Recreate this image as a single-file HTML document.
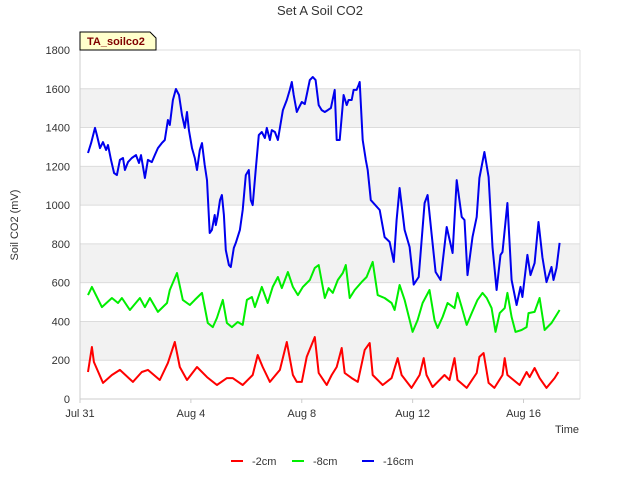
<!DOCTYPE html>
<html><head><meta charset="utf-8"><style>
body{margin:0;background:#fff;font-family:"Liberation Sans",sans-serif}
svg text{font-family:"Liberation Sans",sans-serif}
</style></head><body>
<svg id="c" width="640" height="480">
<text x="320" y="15" text-anchor="middle" font-size="13" fill="#333">Set A Soil CO2</text>
<text transform="translate(18,225) rotate(-90)" text-anchor="middle" font-size="11" fill="#333">Soil CO2 (mV)</text>
<text x="579" y="433" text-anchor="end" font-size="11" fill="#333">Time</text>
<g id="bands"></g><g id="grid"></g><g id="ticks"></g><g id="series"></g>
<g>
<path d="M80,32 L150,32 L156,38 L156,50 L80,50 Z" fill="#ffffcc" stroke="#000" stroke-width="1"/>
<text x="87" y="45" font-size="11" font-weight="bold" fill="#800000">TA_soilco2</text>
</g>
<g>
<g><line x1="231" y1="461" x2="243" y2="461" stroke="#ff0000" stroke-width="2"/><text x="252" y="465" font-size="11" fill="#333">-2cm</text></g>
<g><line x1="292" y1="461" x2="304" y2="461" stroke="#00ee00" stroke-width="2"/><text x="313" y="465" font-size="11" fill="#333">-8cm</text></g>
<g><line x1="362" y1="461" x2="374" y2="461" stroke="#0000ee" stroke-width="2"/><text x="383" y="465" font-size="11" fill="#333">-16cm</text></g>
</g>
</svg>
<script>
const yTicks=[0,200,400,600,800,1000,1200,1400,1600,1800];
const xTickDays=[0,4,8,12,16];
const xTickLabels=["Jul 31","Aug 4","Aug 8","Aug 12","Aug 16"];
const redDays=[0.29,0.43,0.50,0.83,1.15,1.44,1.91,2.23,2.45,2.88,3.17,3.42,3.60,3.86,4.22,4.58,4.94,5.30,5.51,5.87,6.23,6.41,6.59,6.85,7.21,7.46,7.68,7.82,8.00,8.18,8.47,8.61,8.90,9.08,9.26,9.44,9.55,9.80,10.02,10.27,10.45,10.56,10.92,11.24,11.46,11.60,11.96,12.25,12.40,12.50,12.72,13.15,13.33,13.51,13.62,13.95,14.31,14.41,14.56,14.74,14.95,15.24,15.32,15.42,15.86,16.11,16.22,16.40,16.58,16.83,17.12,17.26];
const redVals=[139,268,191,83,124,150,88,139,150,98,186,294,165,98,165,113,72,108,108,72,124,227,165,88,150,294,124,88,88,217,320,134,72,124,165,263,134,108,88,253,289,124,72,108,211,124,57,124,211,124,62,124,98,211,98,57,134,217,237,83,57,124,211,124,72,139,113,160,108,57,108,139];
const greenDays=[0.29,0.43,0.79,1.15,1.37,1.51,1.80,2.16,2.34,2.52,2.81,3.14,3.24,3.50,3.71,3.96,4.14,4.40,4.61,4.79,4.94,5.15,5.30,5.48,5.69,5.87,6.02,6.20,6.31,6.56,6.77,6.95,7.14,7.28,7.50,7.68,7.86,8.04,8.29,8.47,8.61,8.83,8.97,9.12,9.30,9.48,9.59,9.73,9.91,10.16,10.34,10.56,10.74,10.99,11.24,11.35,11.53,11.71,12.00,12.18,12.36,12.61,12.79,12.90,13.08,13.26,13.51,13.62,13.77,13.95,14.13,14.34,14.52,14.67,14.85,14.99,15.14,15.32,15.42,15.57,15.71,15.93,16.11,16.18,16.40,16.58,16.76,17.01,17.19,17.30];
const greenVals=[536,578,474,521,495,521,459,521,474,521,449,495,562,650,511,485,511,547,392,371,418,511,392,371,397,382,511,526,474,578,495,578,629,572,655,578,536,578,614,676,691,521,572,547,614,650,691,521,562,603,629,707,536,521,495,459,588,511,346,407,495,562,407,366,423,495,469,547,474,382,443,511,547,521,469,346,443,469,547,423,346,356,371,443,449,521,356,392,433,459];
const blueDays=[0.29,0.40,0.54,0.61,0.72,0.83,0.94,1.01,1.12,1.23,1.33,1.44,1.55,1.62,1.73,1.87,2.02,2.13,2.20,2.34,2.45,2.59,2.70,2.81,2.95,3.06,3.17,3.24,3.35,3.46,3.57,3.68,3.78,3.86,3.93,4.04,4.14,4.22,4.32,4.40,4.50,4.58,4.68,4.76,4.86,4.90,4.97,5.05,5.12,5.19,5.26,5.37,5.44,5.55,5.62,5.77,5.87,5.98,6.09,6.16,6.23,6.34,6.45,6.56,6.67,6.74,6.85,6.92,7.03,7.14,7.21,7.32,7.46,7.57,7.64,7.71,7.82,7.89,8.00,8.11,8.18,8.29,8.40,8.50,8.61,8.72,8.83,8.94,9.05,9.19,9.26,9.37,9.51,9.62,9.69,9.80,9.87,9.98,10.05,10.09,10.20,10.31,10.38,10.49,10.81,10.99,11.17,11.32,11.42,11.53,11.71,11.89,12.04,12.22,12.43,12.54,12.68,12.83,13.01,13.23,13.44,13.59,13.77,13.87,13.98,14.16,14.31,14.41,14.59,14.74,14.88,15.03,15.17,15.24,15.42,15.57,15.75,15.89,15.96,16.14,16.25,16.40,16.54,16.68,16.83,17.01,17.08,17.19,17.30];
const blueVals=[1269,1320,1398,1361,1294,1325,1284,1310,1233,1165,1155,1233,1243,1181,1222,1243,1258,1217,1258,1140,1233,1222,1258,1294,1320,1336,1439,1413,1542,1599,1568,1465,1398,1480,1387,1294,1243,1181,1284,1320,1207,1129,856,872,949,897,949,1026,1052,949,768,691,681,779,805,872,975,1155,1181,1026,1000,1181,1361,1377,1346,1398,1336,1387,1377,1336,1398,1490,1542,1594,1635,1568,1480,1501,1532,1521,1568,1645,1661,1645,1516,1490,1480,1490,1501,1594,1336,1336,1568,1516,1542,1542,1594,1594,1619,1635,1336,1233,1181,1026,975,835,810,707,923,1088,872,784,590,629,1011,1052,856,655,614,887,753,1129,939,923,639,835,939,1140,1274,1145,784,562,743,758,1011,614,485,578,526,743,639,701,913,732,603,681,614,676,805];
const NS='http://www.w3.org/2000/svg';
const X0=80,X1=580,Y0=399,Y1=50;
const xs=d=>X0+d*27.72;
const ys=v=>Y0-(v/1800)*(Y0-Y1);
function mk(tag,attrs,parent){const e=document.createElementNS(NS,tag);for(const k in attrs)e.setAttribute(k,attrs[k]);document.getElementById(parent).appendChild(e);return e;}
for(let i=0;i<yTicks.length-1;i++){
  if(i%2===1){const b=mk('rect',{x:X0,y:ys(yTicks[i+1]),width:X1-X0,height:ys(yTicks[i])-ys(yTicks[i+1]),fill:'#f2f2f2'},'bands');
  
  }
}
yTicks.forEach(v=>{
  const l=mk('line',{x1:X0,x2:X1,y1:ys(v),y2:ys(v),stroke:'#dcdcdc','stroke-width':1},'grid');
  
  
  const t=mk('text',{x:70,y:ys(v)+4,'text-anchor':'end','font-size':11,fill:'#333'},'ticks');t.textContent=v;
  
  
});
const ax=mk('line',{x1:X0,x2:X0,y1:Y1,y2:Y0,stroke:'#ccc'},'grid');


const bx=mk('line',{x1:X1,x2:X1,y1:Y1,y2:Y0,stroke:'#e0e0e0'},'grid');


const xa=mk('line',{x1:X0,x2:X1,y1:Y0,y2:Y0,stroke:'#ccc'},'grid');


xTickDays.forEach((d,i)=>{
  const t=mk('text',{x:xs(d),y:417,'text-anchor':'middle','font-size':11,fill:'#333'},'ticks');t.textContent=xTickLabels[i];
  
  
  const tk=mk('line',{x1:xs(d),x2:xs(d),y1:Y0,y2:Y0+4,stroke:'#ccc'},'ticks');
  
  
});
function series(days,vals,color,name){
  const d=days.map((t,i)=>(i?'L':'M')+xs(t).toFixed(1)+','+ys(vals[i]).toFixed(1)).join(' ');
  const p=mk('path',{d:d,fill:'none',stroke:color,'stroke-width':2,'stroke-linejoin':'round'},'series');
  
  
}
series(redDays,redVals,'#ff0000','series-2cm');
series(greenDays,greenVals,'#00ee00','series-8cm');
series(blueDays,blueVals,'#0000ee','series-16cm');
</script>
</body></html>
